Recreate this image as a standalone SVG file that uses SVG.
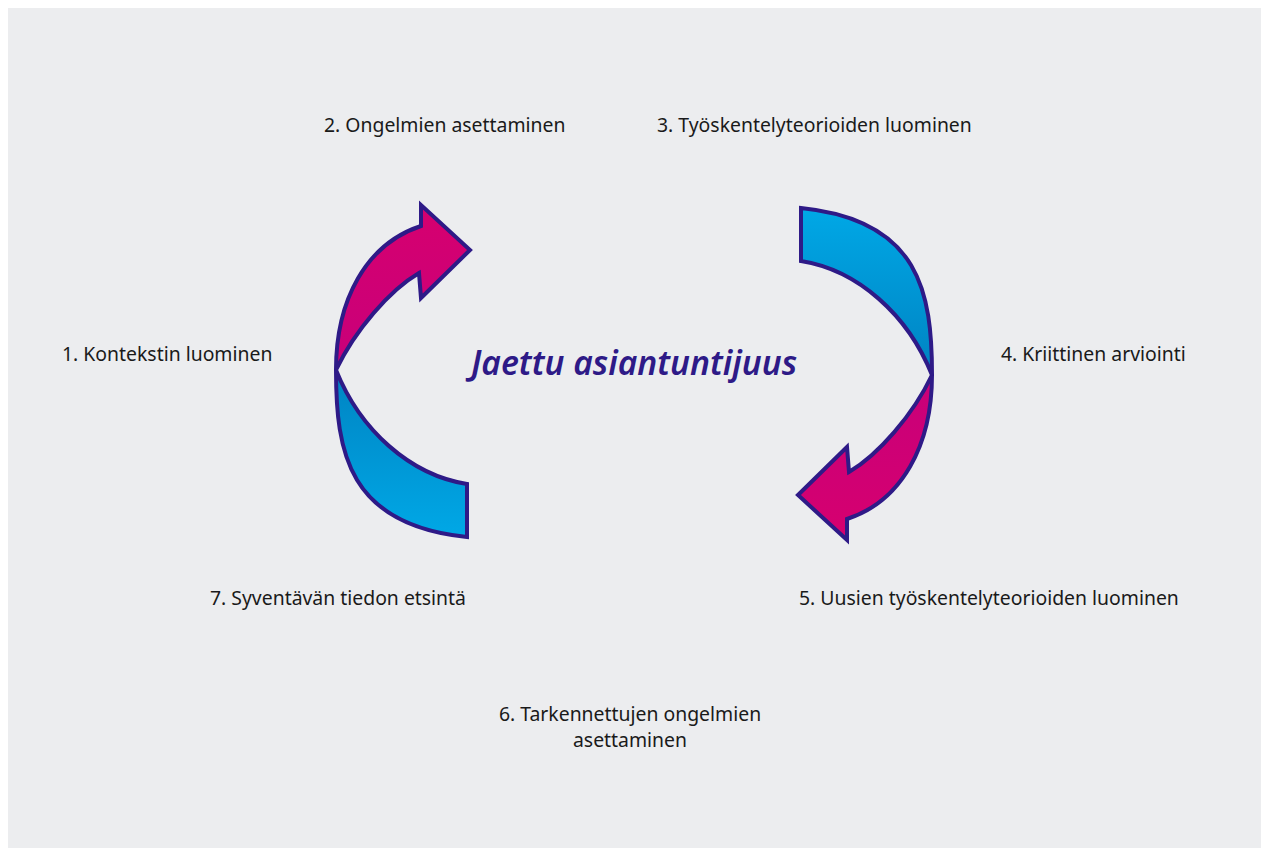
<svg xmlns="http://www.w3.org/2000/svg" width="1261" height="848" viewBox="0 0 1261 848">
<style>
.lbl{font-family:"Noto Sans","Liberation Sans",sans-serif;font-size:19.4px;fill:#1a1a1a}
.title{font-family:"Noto Sans","Liberation Sans",sans-serif;font-size:33.6px;font-style:italic;font-weight:600;fill:#2e1a87}
.seg{stroke:#2e1a87;stroke-width:4;stroke-linejoin:miter}
</style>
<defs>
<linearGradient id="blue" x1="0" y1="0" x2="0" y2="1">
<stop offset="0" stop-color="#0083c2"/>
<stop offset="1" stop-color="#00a8e6"/>
</linearGradient>
<linearGradient id="mag" x1="0" y1="0" x2="0" y2="1">
<stop offset="0" stop-color="#d6006f"/>
<stop offset="1" stop-color="#c8007a"/>
</linearGradient>
</defs>
<rect x="8" y="8" width="1253" height="840" fill="#ecedef"/>
<g id="arrow-left">
<path class="seg" fill="url(#mag)" d="M336 370 C336 300 366 244 421 226 L421 205 L470 250 L421 298 L419 273 C390 290 355 330 336 370 Z"/>
<path class="seg" fill="url(#blue)" d="M336 370 C336 452 348 525 467 537 L467 484 C410 475 360 430 336 370 Z"/>
</g>
<g id="arrow-right" transform="rotate(180 634 372.5)">
<path class="seg" fill="url(#mag)" d="M336 370 C336 300 366 244 421 226 L421 205 L470 250 L421 298 L419 273 C390 290 355 330 336 370 Z"/>
<path class="seg" fill="url(#blue)" d="M336 370 C336 452 348 525 467 537 L467 484 C410 475 360 430 336 370 Z"/>
</g>
<g id="title"><text class="title" x="634" y="375" text-anchor="middle">Jaettu asiantuntijuus</text></g>
<g id="step1"><text class="lbl" x="62" y="361">1. Kontekstin luominen</text></g>
<g id="step2"><text class="lbl" x="324" y="132">2. Ongelmien asettaminen</text></g>
<g id="step3"><text class="lbl" x="657" y="132">3. Työskentelyteorioiden luominen</text></g>
<g id="step4"><text class="lbl" x="1001" y="361">4. Kriittinen arviointi</text></g>
<g id="step5"><text class="lbl" x="799" y="605">5. Uusien työskentelyteorioiden luominen</text></g>
<g id="step6"><text class="lbl" x="630" y="721" text-anchor="middle">6. Tarkennettujen ongelmien</text><text class="lbl" x="630" y="747" text-anchor="middle">asettaminen</text></g>
<g id="step7"><text class="lbl" x="210" y="605">7. Syventävän tiedon etsintä</text></g>
</svg>
